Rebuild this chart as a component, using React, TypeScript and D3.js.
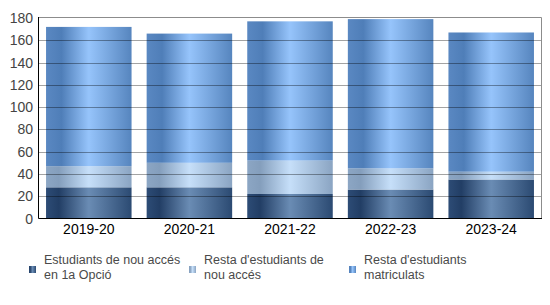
import React from "react";
import * as d3 from "d3";

const categories = ["2019-20", "2020-21", "2021-22", "2022-23", "2023-24"];
const primeraOpcio = [28, 28, 22, 26, 35];
const restaNouAcces = [19, 22, 30, 19, 7];
const restaMatriculats = [125, 116, 125, 134, 125];
const yTicks = [0, 20, 40, 60, 80, 100, 120, 140, 160, 180];
const seriesNames = [
  ["Estudiants de nou accés", "en 1a Opció"],
  ["Resta d'estudiants de", "nou accés"],
  ["Resta d'estudiants", "matriculats"],
];

const gradients = [
  { id: "g0", stops: [["0", "#2d4c76"], ["0.15", "#223e65"], ["0.5", "#6a8cb4"], ["1", "#2b4a72"]] },
  { id: "g1", stops: [["0", "#8ca6c4"], ["0.15", "#849ebc"], ["0.5", "#c6dff9"], ["1", "#8aa4c2"]] },
  { id: "g2", stops: [["0", "#5a88c2"], ["0.18", "#4f7eb8"], ["0.5", "#96c4fb"], ["1", "#5685be"]] },
];

export default function App() {
  const W = 550, H = 305;
  const x0 = 38.5, x1 = 541.5, yTop = 18, yBot = 218.5;
  const x = d3.scaleBand<string>().domain(categories).range([x0, x1]).paddingInner(0.15).paddingOuter(0.075);
  const y = d3.scaleLinear().domain([0, 180]).range([yBot, yTop]);
  const data = categories.map((c, i) => ({ c, v: [primeraOpcio[i], restaNouAcces[i], restaMatriculats[i]] }));
  const stacked = d3.stack<any>().keys(["0", "1", "2"]).value((d: any, k) => d.v[+k])(data as any);
  const font = "'Liberation Sans', Arial, sans-serif";
  return (
    <svg width={W} height={H} style={{ position: "absolute", left: 0, top: 0 }} fontFamily={font}>
      <defs>
        {gradients.map((g) => (
          <linearGradient key={g.id} id={g.id} x1="0" x2="1" y1="0" y2="0">
            {g.stops.map(([o, c]) => <stop key={o} offset={o} stopColor={c} />)}
          </linearGradient>
        ))}
      </defs>
      {stacked.map((s, si) =>
        s.map((d, i) => (
          <rect key={si + "-" + i} x={x(categories[i])} width={x.bandwidth()} y={y(d[1])} height={y(d[0]) - y(d[1])} fill={`url(#g${si})`} />
        ))
      )}
      {yTicks.slice(1, -1).map((t) => (
        <line key={t} x1={x0} x2={x1} y1={Math.round(y(t)) + 0.5} y2={Math.round(y(t)) + 0.5} stroke="#000" strokeOpacity={0.36} />
      ))}
      <line x1={x0} x2={x1} y1={yTop - 0.5} y2={yTop - 0.5} stroke="#8c8c8c" />
      <line x1={x1} x2={x1} y1={yTop - 0.5} y2={yBot} stroke="#8c8c8c" />
      <line x1={x0} x2={x0} y1={yTop - 1} y2={yBot} stroke="#000" />
      <line x1={x0} x2={x1 + 0.5} y1={yBot} y2={yBot} stroke="#000" />
      {yTicks.map((t) => (
        <text key={t} x={33} y={y(t)} dy="0.36em" textAnchor="end" fontSize={14} fill="#444">{t}</text>
      ))}
      {categories.map((c) => (
        <text key={c} x={(x(c) as number) + x.bandwidth() / 2} y={233.5} textAnchor="middle" fontSize={14} fill="#000">{c}</text>
      ))}
      {seriesNames.map((lines, i) => {
        const lx = 29 + i * 160;
        return (
          <g key={i}>
            <rect x={lx} y={266} width={7} height={7} fill={`url(#g${i})`} />
            {lines.map((l, j) => (
              <text key={j} x={lx + 15} y={264 + j * 15} fontSize={12.5} fill="#4a4a4a">{l}</text>
            ))}
          </g>
        );
      })}
    </svg>
  );
}
